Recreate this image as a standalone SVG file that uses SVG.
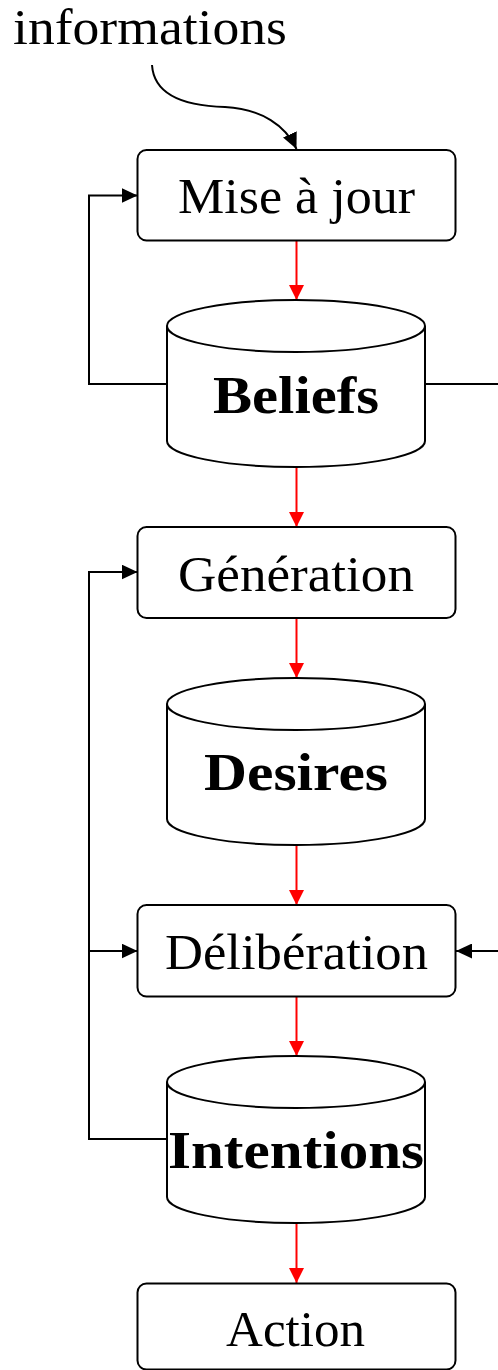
<svg xmlns="http://www.w3.org/2000/svg" width="498" height="1370" viewBox="0 0 498 1370">
  <style>
    .box { fill: #ffffff; stroke: #000000; stroke-width: 2; }
    .db { fill: #ffffff; stroke: #000000; stroke-width: 2; }
    .rim { fill: none; stroke: #000000; stroke-width: 2; }
    .lbl { font-family: "Liberation Serif", "Times New Roman", serif; font-size: 51px; fill: #000000; text-anchor: middle; }
    .bold { font-weight: bold; font-size: 52px; }
    .flow { fill: none; stroke: #ff0000; stroke-width: 2; }
    .loop { fill: none; stroke: #000000; stroke-width: 2; }
  </style>
  <defs>
    <marker id="arrowRed" markerUnits="userSpaceOnUse" markerWidth="15" markerHeight="15" refX="15" refY="7.5" orient="auto">
      <path d="M0,0 L15,7.5 L0,15 Z" fill="#ff0000"/>
    </marker>
    <marker id="arrowBlack" markerUnits="userSpaceOnUse" markerWidth="16" markerHeight="15" refX="16" refY="7.5" orient="auto">
      <path d="M0,0 L16,7.5 L0,15 Z" fill="#000000"/>
    </marker>
  </defs>
  <rect width="498" height="1370" fill="#ffffff"/>

  <!-- connectors -->
  <g id="connectors">
    <!-- incoming information -->
    <path class="loop" d="M152,65 C154,96 186,106 225,107 C262,109 286,126 296.5,149" marker-end="url(#arrowBlack)"/>
    <!-- main flow -->
    <line class="flow" x1="296.5" y1="241" x2="296.5" y2="300" marker-end="url(#arrowRed)"/>
    <line class="flow" x1="296.5" y1="467" x2="296.5" y2="527" marker-end="url(#arrowRed)"/>
    <line class="flow" x1="296.5" y1="618" x2="296.5" y2="678" marker-end="url(#arrowRed)"/>
    <line class="flow" x1="296.5" y1="845" x2="296.5" y2="905" marker-end="url(#arrowRed)"/>
    <line class="flow" x1="296.5" y1="997" x2="296.5" y2="1056" marker-end="url(#arrowRed)"/>
    <line class="flow" x1="296.5" y1="1223" x2="296.5" y2="1283" marker-end="url(#arrowRed)"/>
    <!-- feedback loops -->
    <path class="loop" d="M167,384 H89 V195.5 H137.5" marker-end="url(#arrowBlack)"/>
    <path class="loop" d="M167,1139 H89 V572 H137.5" marker-end="url(#arrowBlack)"/>
    <path class="loop" d="M89,951 H137.5" marker-end="url(#arrowBlack)"/>
    <path class="loop" d="M425,384 H512 V951 H456" marker-end="url(#arrowBlack)"/>
  </g>

  <text class="lbl" x="150" y="44" textLength="274" lengthAdjust="spacingAndGlyphs">informations</text>

  <g id="node-miseajour">
    <rect class="box" x="137.5" y="150" width="318" height="90.5" rx="9"/>
    <text class="lbl" x="296.5" y="213" textLength="237" lengthAdjust="spacingAndGlyphs">Mise à jour</text>
  </g>

  <g id="node-beliefs">
    <path class="db" d="M167,326 A129,26 0 0 1 425,326 V441 A129,26 0 0 1 167,441 Z"/>
    <path class="rim" d="M167,326 A129,26 0 0 0 425,326"/>
    <text class="lbl bold" x="296" y="413" textLength="166" lengthAdjust="spacingAndGlyphs">Beliefs</text>
  </g>

  <g id="node-generation">
    <rect class="box" x="137.5" y="527" width="318" height="91" rx="9"/>
    <text class="lbl" x="296" y="590.5" textLength="236" lengthAdjust="spacingAndGlyphs">Génération</text>
  </g>

  <g id="node-desires">
    <path class="db" d="M167,704 A129,26 0 0 1 425,704 V819 A129,26 0 0 1 167,819 Z"/>
    <path class="rim" d="M167,704 A129,26 0 0 0 425,704"/>
    <text class="lbl bold" x="296" y="790" textLength="184" lengthAdjust="spacingAndGlyphs">Desires</text>
  </g>

  <g id="node-deliberation">
    <rect class="box" x="137.5" y="905" width="318" height="91.5" rx="9"/>
    <text class="lbl" x="296.5" y="969" textLength="263" lengthAdjust="spacingAndGlyphs">Délibération</text>
  </g>

  <g id="node-intentions">
    <path class="db" d="M167,1082 A129,26 0 0 1 425,1082 V1197 A129,26 0 0 1 167,1197 Z"/>
    <path class="rim" d="M167,1082 A129,26 0 0 0 425,1082"/>
    <text class="lbl bold" x="296" y="1168" textLength="256" lengthAdjust="spacingAndGlyphs">Intentions</text>
  </g>

  <g id="node-action">
    <rect class="box" x="137.5" y="1283.5" width="318" height="86" rx="9"/>
    <text class="lbl" x="295.5" y="1346" textLength="139" lengthAdjust="spacingAndGlyphs">Action</text>
  </g>
</svg>
